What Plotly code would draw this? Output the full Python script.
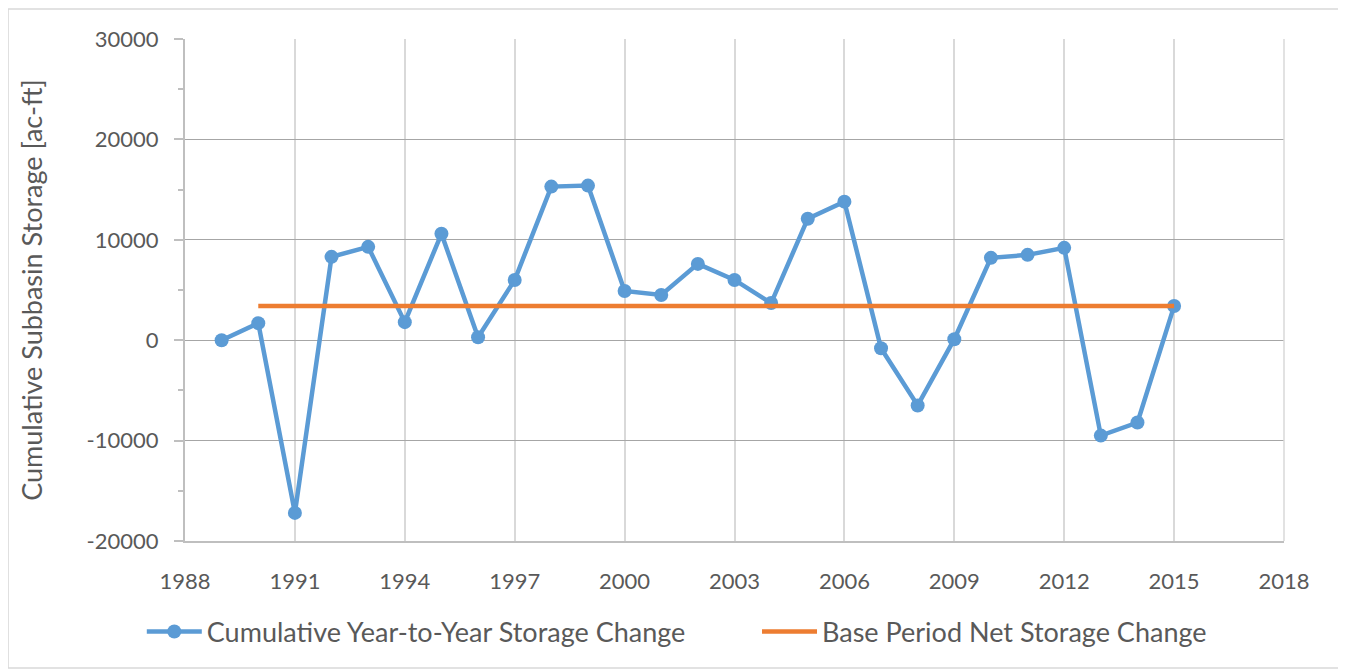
import plotly.graph_objects as go

# values
years = list(range(1989, 2016))
cumulative_change = [
    0, 1700, -17200, 8300, 9300, 1800, 10600, 300, 6000, 15300,
    15400, 4900, 4500, 7600, 6000, 3700, 12100, 13800, -800, -6500,
    100, 8200, 8500, 9200, -9500, -8200, 3400,
]
base_years = [1990, 2015]
base_change = [3400, 3400]

x_ticks = list(range(1988, 2019, 3))
y_ticks = list(range(-20000, 30001, 10000))
y_labels = [str(v) for v in y_ticks]

BLUE = "#5B9BD5"
ORANGE = "#ED7D31"
TEXT = "#595959"
FONT = "Lato, 'Open Sans', sans-serif"

fig = go.Figure()
fig.add_trace(go.Scatter(
    x=years, y=cumulative_change, mode="lines+markers",
    name="Cumulative Year-to-Year Storage Change",
    line=dict(color=BLUE, width=4.5),
    marker=dict(color=BLUE, size=14),
    legend="legend",
))
fig.add_trace(go.Scatter(
    x=base_years, y=base_change, mode="lines",
    name="Base Period Net Storage Change",
    line=dict(color=ORANGE, width=4.5),
    legend="legend2",
))

legend_style = dict(
    orientation="h", xref="container", yref="container",
    xanchor="left", y=0.059, yanchor="middle",
    font=dict(size=27, color=TEXT), itemwidth=55,
)

# page body has an 8px margin, so the figure is shrunk and offset by that
fig.update_layout(
    width=1338, height=663,
    paper_bgcolor="white", plot_bgcolor="white",
    font=dict(family=FONT, size=22, color=TEXT),
    margin=dict(l=177, r=62, t=31, b=130, autoexpand=False),
    showlegend=True,
    legend=dict(x=0.1, **legend_style),
    legend2=dict(x=0.5598, **legend_style),
    xaxis=dict(
        range=[1988, 2018], tickvals=x_ticks, showgrid=True,
        gridcolor="#D9D9D9", gridwidth=1.5, zeroline=False,
        showline=True, linecolor="#BFBFBF", linewidth=2,
        ticks="", ticklabelstandoff=20, automargin=False,
    ),
    yaxis=dict(
        range=[-20000, 30000], tickvals=y_ticks, ticktext=y_labels,
        showgrid=True, gridcolor="#A6A6A6", gridwidth=1.2, zeroline=False,
        showline=True, linecolor="#BFBFBF", linewidth=2,
        ticks="outside", ticklen=9, tickcolor="#BFBFBF", tickwidth=1.5,
        ticklabelstandoff=11, automargin=False,
        minor=dict(dtick=5000, ticks="outside", ticklen=5,
                   tickcolor="#BFBFBF", showgrid=False),
        title=dict(text="Cumulative Subbasin Storage [ac-ft]",
                   font=dict(size=27, color=TEXT), standoff=36),
    ),
)

# right edge of plot area
fig.add_shape(type="line", xref="paper", yref="paper", x0=1, x1=1, y0=0, y1=1,
              line=dict(color="#D9D9D9", width=1.5))
# outer chart border
fig.add_shape(type="rect", xref="paper", yref="paper",
              x0=-0.161, x1=1.051, y0=-0.253, y1=1.06,
              line=dict(color="#D9D9D9", width=1.5), layer="below")

fig.write_html("out.html")
